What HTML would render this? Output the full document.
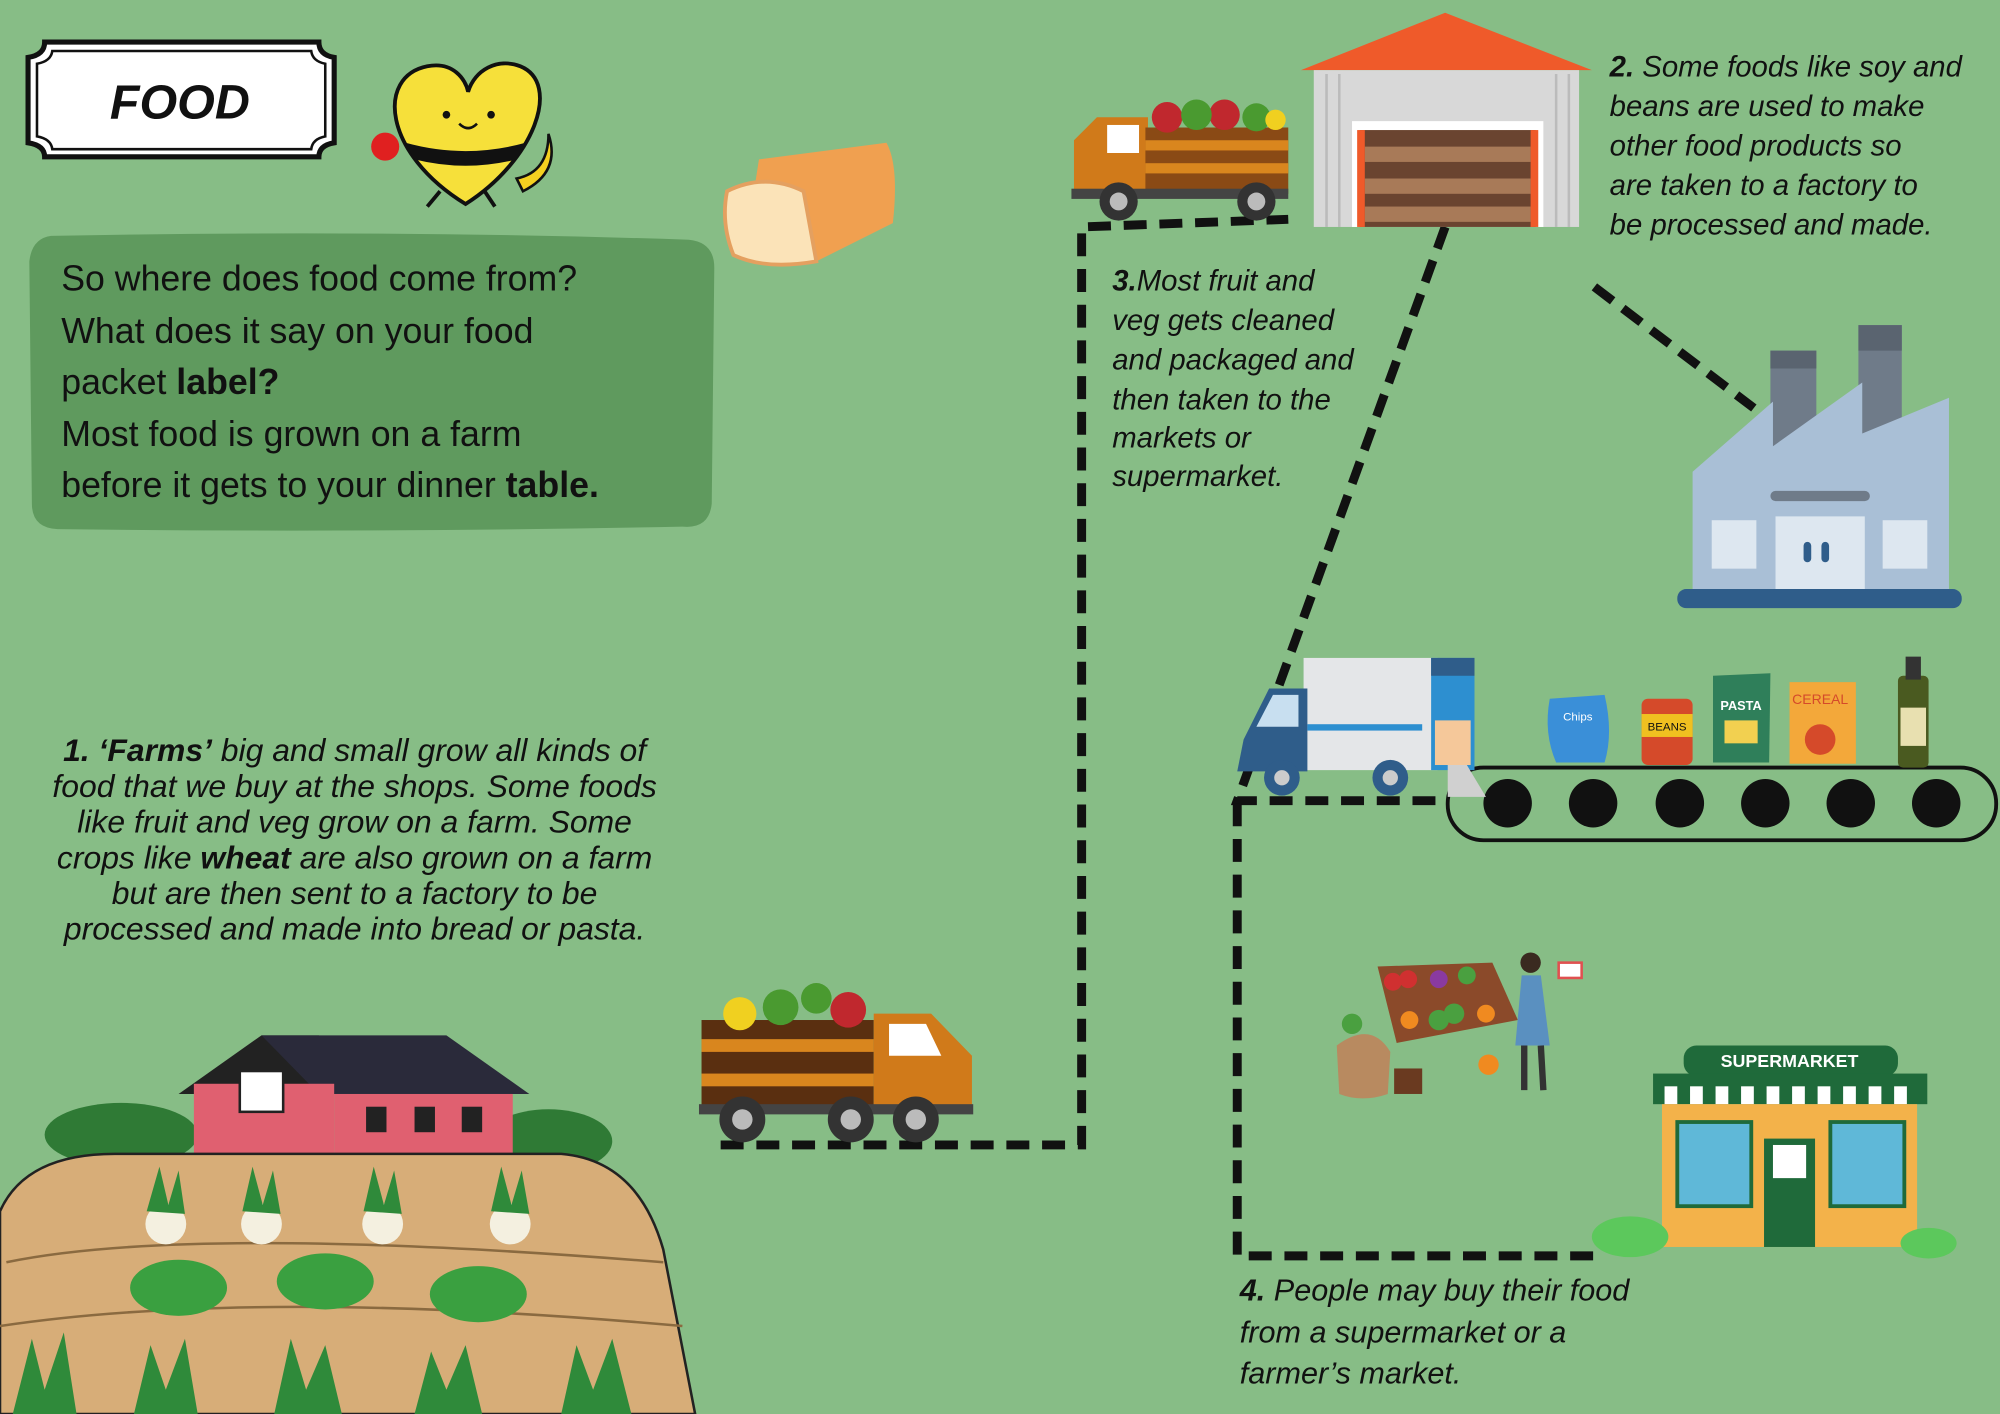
<!DOCTYPE html>
<html><head><meta charset="utf-8"><style>
html,body{margin:0;padding:0;background:#87bd86;}
svg{display:block}
text{font-family:"Liberation Sans",sans-serif;}
.it{font-style:italic;fill:#111;}
</style></head><body>
<svg width="2000" height="1414" viewBox="0 0 1568 1109" preserveAspectRatio="none" xmlns="http://www.w3.org/2000/svg">
<rect width="1568" height="1109" fill="#87bd86"/>

<!-- FOOD sign -->
<path d="M35,33 H250 Q250,43 262,45 V112 Q250,114 250,123 H35 Q35,114 22,112 V45 Q35,43 35,33 Z" fill="#fff" stroke="#111" stroke-width="4"/>
<path d="M41,40 H244 Q245,48 255,50 V107 Q245,109 244,117 H41 Q40,109 29,107 V50 Q40,48 41,40 Z" fill="none" stroke="#111" stroke-width="2"/>
<text x="141" y="93" text-anchor="middle" font-size="38" font-weight="bold" font-style="italic" fill="#111">FOOD</text>

<!-- heart mascot -->
<path d="M365,160 C300,120 295,60 335,52 C355,48 365,62 367,72 C372,55 390,45 408,52 C440,65 420,125 365,160 Z" fill="#f6e03a" stroke="#111" stroke-width="3"/>
<path d="M318,112 Q365,125 412,112 L405,125 Q365,135 325,125 Z" fill="#111"/>
<circle cx="350" cy="90" r="3" fill="#111"/><circle cx="385" cy="90" r="3" fill="#111"/>
<path d="M360,97 Q367,104 374,97" stroke="#111" stroke-width="2" fill="none"/>
<circle cx="302" cy="115" r="11" fill="#e02020"/>
<path d="M405,140 Q430,135 430,105 Q440,135 410,150 Z" fill="#f5d020" stroke="#111" stroke-width="2"/>
<path d="M345,150 L335,162 M380,150 L388,162" stroke="#111" stroke-width="3"/>

<!-- bread -->
<path d="M595,125 L695,112 Q705,130 700,175 L640,205 L585,190 Z" fill="#f0a050"/>
<path d="M570,150 Q600,135 630,150 L640,205 Q600,212 575,200 Q565,175 570,150 Z" fill="#fbe3b8" stroke="#e4a060" stroke-width="3"/>

<!-- intro box -->
<path d="M40,185 Q300,180 540,188 Q560,190 560,210 L558,395 Q556,415 535,413 Q290,418 45,415 Q25,414 25,395 L23,205 Q25,187 40,185 Z" fill="#5f9a5e"/>
<g font-size="28" fill="#111">
<text x="48" y="228">So where does food come from?</text>
<text x="48" y="269">What does it say on your food</text>
<text x="48" y="309">packet <tspan font-weight="bold">label?</tspan></text>
<text x="48" y="350">Most food is grown on a farm</text>
<text x="48" y="390">before it gets to your dinner <tspan font-weight="bold">table.</tspan></text>
</g>

<!-- step 1 text -->
<g class="it" font-size="25" text-anchor="middle">
<text x="278" y="597"><tspan font-weight="bold">1. ‘Farms’</tspan> big and small grow all kinds of</text>
<text x="278" y="625">food that we buy at the shops. Some foods</text>
<text x="278" y="653">like fruit and veg grow on a farm. Some</text>
<text x="278" y="681">crops like <tspan font-weight="bold">wheat</tspan> are also grown on a farm</text>
<text x="278" y="709">but are then sent to a factory to be</text>
<text x="278" y="737">processed and made into bread or pasta.</text>
</g>

<!-- step 2 text -->
<g class="it" font-size="23">
<text x="1262" y="60"><tspan font-weight="bold">2.</tspan> Some foods like soy and</text>
<text x="1262" y="91">beans are used to make</text>
<text x="1262" y="122">other food products so</text>
<text x="1262" y="153">are taken to a factory to</text>
<text x="1262" y="184">be processed and made.</text>
</g>

<!-- step 3 text -->
<g class="it" font-size="23">
<text x="872" y="228"><tspan font-weight="bold">3.</tspan>Most fruit and</text>
<text x="872" y="259">veg gets cleaned</text>
<text x="872" y="290">and packaged and</text>
<text x="872" y="321">then taken to the</text>
<text x="872" y="351">markets or</text>
<text x="872" y="381">supermarket.</text>
</g>

<!-- step 4 text -->
<g class="it" font-size="24">
<text x="972" y="1020"><tspan font-weight="bold">4.</tspan> People may buy their food</text>
<text x="972" y="1053">from a supermarket or a</text>
<text x="972" y="1085">farmer’s market.</text>
</g>

<!-- dashed lines -->
<g fill="none" stroke="#111" stroke-width="7" stroke-dasharray="18,10">
<path d="M565,898 H848 V178 L1010,172"/>
<path d="M1133,178 L970,628 H1135"/>
<path d="M970,630 V985 H1250"/>
<path d="M1250,225 L1375,320"/>
</g>

<!-- top truck -->
<g>
<path d="M842,110 L860,92 H900 V150 H842 Z" fill="#d07a1a"/>
<rect x="868" y="98" width="25" height="22" fill="#fff"/>
<rect x="898" y="100" width="112" height="52" fill="#8a4a15"/>
<rect x="898" y="110" width="112" height="8" fill="#d9861e"/><rect x="898" y="128" width="112" height="8" fill="#d9861e"/>
<g fill="#c0282e"><circle cx="915" cy="92" r="12"/><circle cx="960" cy="90" r="12"/></g>
<g fill="#4a9a30"><circle cx="938" cy="90" r="12"/><circle cx="985" cy="92" r="11"/></g>
<circle cx="1000" cy="94" r="8" fill="#f0d020"/>
<rect x="840" y="148" width="170" height="8" fill="#444"/>
<circle cx="877" cy="158" r="15" fill="#333"/><circle cx="877" cy="158" r="7" fill="#bbb"/>
<circle cx="985" cy="158" r="15" fill="#333"/><circle cx="985" cy="158" r="7" fill="#bbb"/>
</g>

<!-- warehouse -->
<polygon points="1020,55 1133,10 1248,55" fill="#ef5a2a"/>
<rect x="1030" y="55" width="208" height="123" fill="#d8d8d8"/>
<g stroke="#bbb" stroke-width="2"><path d="M1040,58 V178 M1050,58 V178 M1220,58 V178 M1230,58 V178"/></g>
<rect x="1060" y="95" width="150" height="83" fill="#fff"/>
<rect x="1066" y="102" width="138" height="76" fill="#6a4430"/>
<g fill="#a87a58"><rect x="1070" y="115" width="130" height="12"/><rect x="1070" y="140" width="130" height="12"/><rect x="1070" y="162" width="130" height="12"/></g>
<rect x="1200" y="102" width="6" height="76" fill="#ef5a2a"/><rect x="1064" y="102" width="6" height="76" fill="#ef5a2a"/>

<!-- factory -->
<rect x="1388" y="275" width="36" height="95" fill="#6f7b89"/>
<rect x="1388" y="275" width="36" height="14" fill="#5a6470"/>
<rect x="1457" y="255" width="34" height="115" fill="#6f7b89"/>
<rect x="1457" y="255" width="34" height="20" fill="#5a6470"/>
<polygon points="1327,370 1390,315 1390,350 1460,300 1460,340 1528,312 1528,465 1327,465" fill="#a9bfd6"/>
<rect x="1388" y="385" width="78" height="8" rx="4" fill="#6f7b89"/>
<rect x="1342" y="408" width="35" height="38" fill="#dde7f0"/>
<rect x="1476" y="408" width="35" height="38" fill="#dde7f0"/>
<rect x="1392" y="405" width="70" height="60" fill="#dde7f0"/>
<rect x="1414" y="425" width="6" height="16" rx="3" fill="#2f5d8a"/><rect x="1428" y="425" width="6" height="16" rx="3" fill="#2f5d8a"/>
<rect x="1315" y="462" width="223" height="15" rx="7" fill="#2f5d8a"/>

<!-- conveyor -->
<rect x="1135" y="602" width="430" height="57" rx="28" fill="none" stroke="#111" stroke-width="3"/>
<g fill="#111"><circle cx="1182" cy="630" r="19"/><circle cx="1249" cy="630" r="19"/><circle cx="1317" cy="630" r="19"/><circle cx="1384" cy="630" r="19"/><circle cx="1451" cy="630" r="19"/><circle cx="1518" cy="630" r="19"/></g>
<!-- products -->
<path d="M1215,548 L1258,545 Q1265,575 1258,598 L1220,598 Q1210,575 1215,548 Z" fill="#3a8fd8"/>
<text x="1237" y="565" font-size="9" fill="#fff" text-anchor="middle">Chips</text>
<rect x="1287" y="548" width="40" height="52" rx="5" fill="#d54a2a"/>
<rect x="1287" y="560" width="40" height="18" fill="#f0c020"/>
<text x="1307" y="573" font-size="9" fill="#111" text-anchor="middle">BEANS</text>
<path d="M1343,530 L1388,528 L1387,598 L1343,598 Z" fill="#2f7f5a"/>
<text x="1365" y="557" font-size="10" font-weight="bold" fill="#fff" text-anchor="middle">PASTA</text>
<rect x="1352" y="565" width="26" height="18" fill="#f2d050"/>
<rect x="1403" y="535" width="52" height="64" fill="#f3a83a"/>
<text x="1427" y="552" font-size="11" fill="#d54a2a" text-anchor="middle">CEREAL</text>
<circle cx="1427" cy="580" r="12" fill="#d54a2a"/>
<rect x="1488" y="530" width="24" height="72" rx="4" fill="#4a5a20"/>
<rect x="1494" y="515" width="12" height="18" fill="#333"/>
<rect x="1490" y="555" width="20" height="30" fill="#e8e0b0"/>

<!-- van -->
<rect x="1022" y="516" width="105" height="88" fill="#e4e6e8"/>
<rect x="1122" y="516" width="34" height="88" fill="#2d8fd0"/>
<rect x="1122" y="516" width="34" height="14" fill="#2f5d8a"/>
<rect x="1125" y="565" width="28" height="35" fill="#f5c89a"/>
<path d="M975,580 L995,540 H1025 V605 H970 Z" fill="#2f5d8a"/>
<path d="M985,570 L998,545 H1018 V570 Z" fill="#c8dff0"/>
<rect x="1025" y="568" width="90" height="5" fill="#2d8fd0"/>
<circle cx="1005" cy="610" r="14" fill="#2f5d8a"/><circle cx="1005" cy="610" r="6" fill="#ccc"/>
<circle cx="1090" cy="610" r="14" fill="#2f5d8a"/><circle cx="1090" cy="610" r="6" fill="#ccc"/>
<polygon points="1150,600 1165,625 1135,625 1135,600" fill="#d0d0d0"/>

<!-- market stall -->
<polygon points="1080,758 1170,755 1190,800 1095,818" fill="#8b4a2a"/>
<g fill="#d03030"><circle cx="1092" cy="770" r="7"/><circle cx="1104" cy="768" r="7"/></g>
<g fill="#8a3aa0"><circle cx="1128" cy="768" r="7"/></g>
<g fill="#4aa040"><circle cx="1150" cy="765" r="7"/><circle cx="1140" cy="795" r="8"/><circle cx="1128" cy="800" r="8"/></g>
<g fill="#f08a20"><circle cx="1105" cy="800" r="7"/><circle cx="1165" cy="795" r="7"/></g>
<path d="M1048,820 Q1075,800 1090,825 L1088,858 Q1068,865 1050,858 Z" fill="#b88a60"/>
<circle cx="1060" cy="803" r="8" fill="#4aa040"/>
<rect x="1093" y="838" width="22" height="20" fill="#6a3a20"/>
<circle cx="1167" cy="835" r="8" fill="#f08a20"/>
<circle cx="1200" cy="755" r="8" fill="#3a2a20"/>
<path d="M1193,765 H1208 L1215,820 H1188 Z" fill="#5a90c0"/>
<path d="M1195,820 L1195,855 M1208,820 L1210,855" stroke="#333" stroke-width="5"/>
<rect x="1222" y="755" width="18" height="12" fill="#fff" stroke="#e05050" stroke-width="2"/>

<!-- supermarket -->
<rect x="1320" y="820" width="168" height="24" rx="10" fill="#1f6a3a"/>
<text x="1403" y="837" font-size="14" font-weight="bold" fill="#fff" text-anchor="middle">SUPERMARKET</text>
<rect x="1296" y="842" width="215" height="24" fill="#1f6a3a"/>
<g fill="#fff"><rect x="1305" y="852" width="10" height="14"/><rect x="1325" y="852" width="10" height="14"/><rect x="1345" y="852" width="10" height="14"/><rect x="1365" y="852" width="10" height="14"/><rect x="1385" y="852" width="10" height="14"/><rect x="1405" y="852" width="10" height="14"/><rect x="1425" y="852" width="10" height="14"/><rect x="1445" y="852" width="10" height="14"/><rect x="1465" y="852" width="10" height="14"/><rect x="1485" y="852" width="10" height="14"/></g>
<rect x="1303" y="866" width="200" height="112" fill="#f3b24a"/>
<rect x="1315" y="880" width="58" height="66" fill="#5fb8d8" stroke="#1f6a3a" stroke-width="3"/>
<rect x="1435" y="880" width="58" height="66" fill="#5fb8d8" stroke="#1f6a3a" stroke-width="3"/>
<rect x="1383" y="893" width="40" height="85" fill="#1f6a3a"/>
<rect x="1390" y="898" width="26" height="26" fill="#fff"/>
<ellipse cx="1278" cy="970" rx="30" ry="16" fill="#5cc85c"/>
<ellipse cx="1512" cy="975" rx="22" ry="12" fill="#5cc85c"/>

<!-- bottom truck -->
<g>
<rect x="550" y="800" width="135" height="70" fill="#5a2f10"/>
<rect x="550" y="815" width="135" height="10" fill="#d9861e"/><rect x="550" y="842" width="135" height="10" fill="#d9861e"/>
<g fill="#f0d020"><circle cx="580" cy="795" r="13"/></g>
<g fill="#4a9a30"><circle cx="612" cy="790" r="14"/><circle cx="640" cy="783" r="12"/></g>
<g fill="#c0282e"><circle cx="665" cy="792" r="14"/></g>
<path d="M685,795 H730 L762,828 V868 H685 Z" fill="#d07a1a"/>
<path d="M697,803 H726 L738,828 H697 Z" fill="#fff"/>
<rect x="548" y="866" width="215" height="8" fill="#444"/>
<circle cx="582" cy="878" r="18" fill="#333"/><circle cx="582" cy="878" r="8" fill="#bbb"/>
<circle cx="667" cy="878" r="18" fill="#333"/><circle cx="667" cy="878" r="8" fill="#bbb"/>
<circle cx="718" cy="878" r="18" fill="#333"/><circle cx="718" cy="878" r="8" fill="#bbb"/>
</g>

<!-- farm -->
<g>
<ellipse cx="95" cy="890" rx="60" ry="25" fill="#2f7a35"/>
<ellipse cx="430" cy="895" rx="50" ry="25" fill="#2f7a35"/>
<polygon points="140,858 205,812 250,812 310,858" fill="#222"/>
<polygon points="205,812 350,812 415,858 250,858" fill="#2a2a3a"/>
<rect x="152" y="850" width="110" height="60" fill="#e06070"/>
<rect x="262" y="858" width="140" height="55" fill="#e06070"/>
<rect x="188" y="840" width="34" height="32" fill="#fff" stroke="#222" stroke-width="2"/>
<g fill="#222"><rect x="287" y="868" width="16" height="20"/><rect x="325" y="868" width="16" height="20"/><rect x="362" y="868" width="16" height="20"/></g>
<path d="M0,950 Q20,905 90,905 L440,905 Q500,910 520,980 L545,1109 H0 Z" fill="#d7ad78" stroke="#222" stroke-width="2"/>
<g fill="none" stroke="#8a6a40" stroke-width="2"><path d="M5,990 Q150,960 520,990"/><path d="M0,1040 Q200,1010 535,1040"/></g>
<g fill="#f4f0e0"><circle cx="130" cy="960" r="16"/><circle cx="205" cy="960" r="16"/><circle cx="300" cy="960" r="16"/><circle cx="400" cy="960" r="16"/></g>
<g fill="#2f8a3a"><path d="M115,950 L125,915 L132,945 L140,918 L145,952 Z"/><path d="M190,950 L198,915 L206,945 L214,918 L220,952 Z"/><path d="M285,950 L293,915 L301,945 L309,918 L315,952 Z"/><path d="M385,950 L393,915 L401,945 L409,918 L415,952 Z"/></g>
<g fill="#3aa040"><ellipse cx="140" cy="1010" rx="38" ry="22"/><ellipse cx="255" cy="1005" rx="38" ry="22"/><ellipse cx="375" cy="1015" rx="38" ry="22"/></g>
<g fill="#2f8a3a"><path d="M10,1109 L25,1050 L35,1090 L50,1045 L60,1109 Z"/><path d="M105,1109 L118,1055 L130,1090 L145,1050 L155,1109 Z"/><path d="M215,1109 L228,1050 L240,1090 L255,1055 L268,1109 Z"/><path d="M325,1109 L338,1060 L350,1090 L365,1055 L378,1109 Z"/><path d="M440,1109 L452,1055 L465,1090 L480,1050 L495,1109 Z"/></g>
</g>
</svg>
</body></html>
